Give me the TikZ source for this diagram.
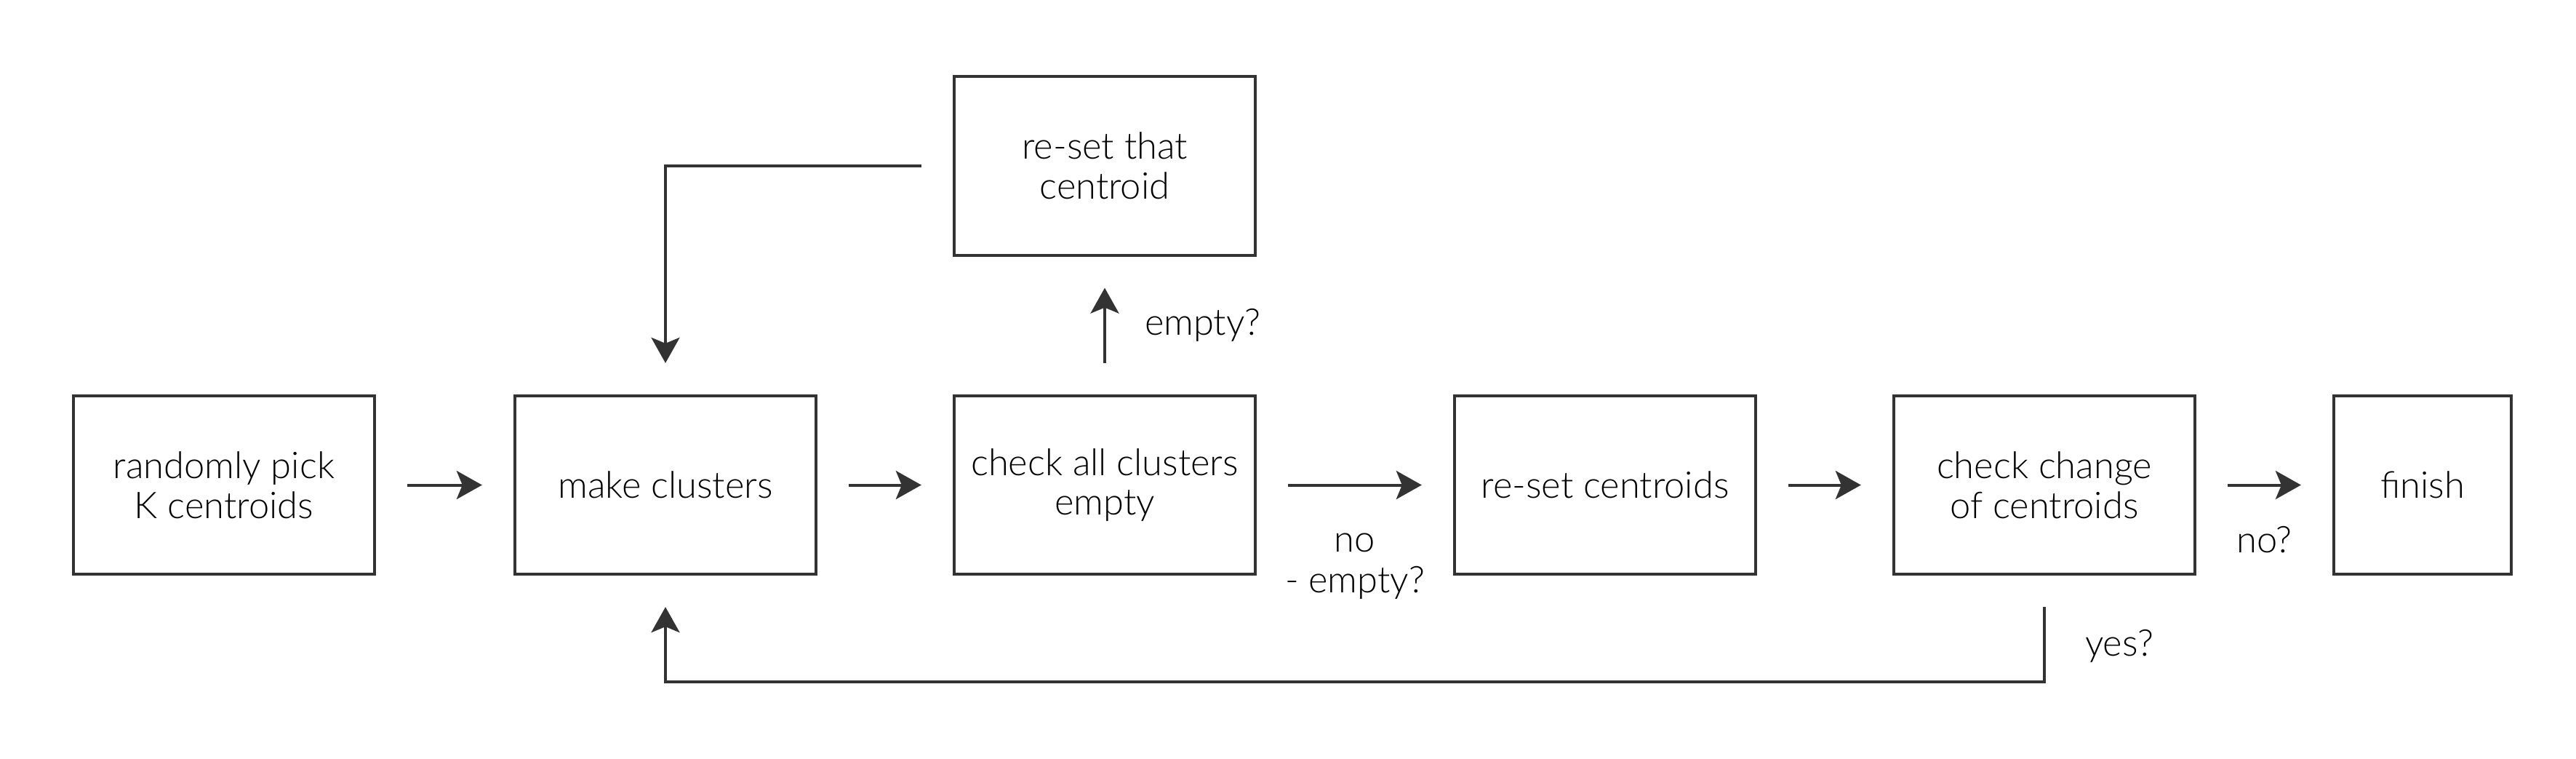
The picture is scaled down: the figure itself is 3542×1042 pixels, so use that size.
\documentclass[tikz,border=0pt]{standalone}
\usepackage{fontspec}
\setmainfont{Lato}[UprightFont=* Light]
\usetikzlibrary{arrows.meta,positioning}
\definecolor{ink}{HTML}{333333}
\tikzset{
  stepbox/.style={draw=ink, line width=1.14pt, minimum width=4.14cm, minimum height=2.45cm,
    align=center, inner sep=2pt, text=black, font=\fontsize{14.4}{15.6}\selectfont},
  flow/.style={draw=ink, line width=1.14pt, -{Stealth[length=3.5mm, width=3.9mm, inset=0.8mm]},
    shorten <=4.3mm, shorten >=4.3mm},
  lab/.style={inner sep=0pt, text=black, font=\fontsize{14.4}{16}\selectfont},
}
\begin{document}
\begin{tikzpicture}[x=0.01cm,y=-0.01cm]
\useasboundingbox (0,0) rectangle (3542,1042);

% ============ main row of steps ============
\node[stepbox] (init)     at (308,666.5)  {randomly pick\\K centroids};
\node[stepbox] (make)     at (915,666.5)  {make clusters};
\node[stepbox] (check)    at (1519,666.5) {check all clusters\\empty};
\node[stepbox] (resetall) at (2207,666.5) {re-set centroids};
\node[stepbox] (change)   at (2811,666.5) {check change\\of centroids};
\node[stepbox, minimum width=2.44cm] (finish) at (3331,666.5) {finish};

% ============ branch for an empty cluster ============
\node[stepbox] (resetone) at (1519,228) {re-set that\\centroid};

% ============ connectors ============
\draw[flow] (init) -- (make);
\draw[flow] (make) -- (check);
\draw[flow] (check) -- node[lab, below=0.64cm, align=center] (nolab) {no\\- empty?} (resetall);
\draw[flow] (resetall) -- (change);
\draw[flow] (change) -- node[lab, below=0.55cm] (nofin) {no?} (finish);
\draw[flow] (check) -- node[lab, right=0.53cm] (emptylab) {empty?} (resetone);
\draw[flow] (resetone.west) -| (make.north);
% loop back while the centroids still move
\draw[flow] (change.south) -- ++(0,146) node[lab, pos=0.66, right=0.54cm] (yeslab) {yes?}
  -| (make.south);

\end{tikzpicture}
\end{document}
